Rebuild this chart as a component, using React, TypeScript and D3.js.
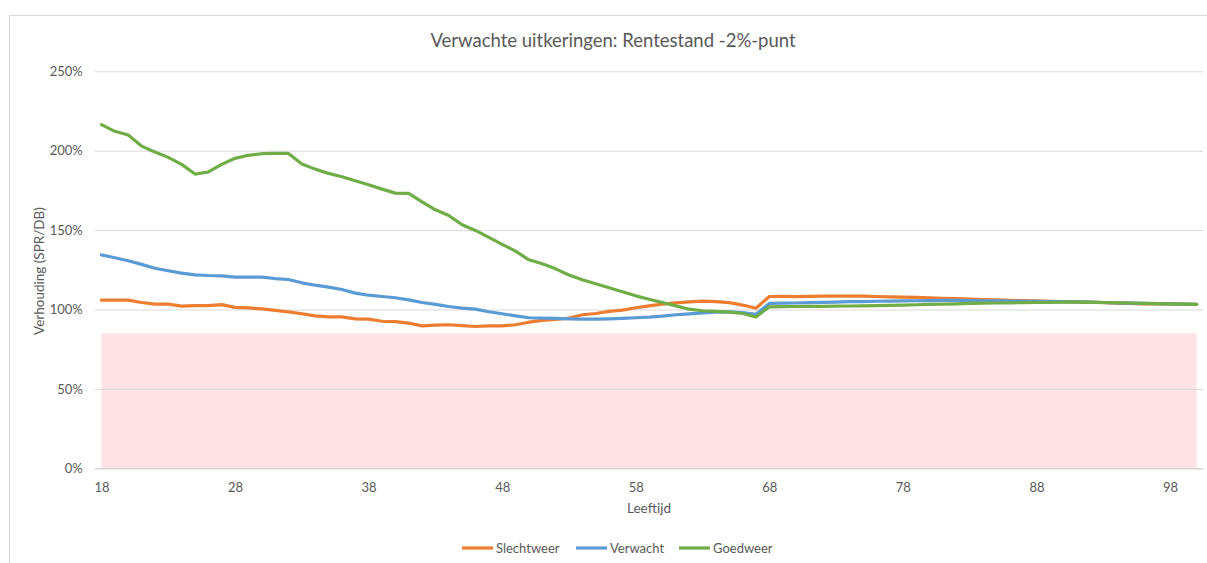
import React, { useRef, useEffect, useMemo } from 'react';
import * as d3 from 'd3';

const leeftijden: number[] = d3.range(18, 101);

const slechtweer = [
  105.9, 105.9, 105.9, 104.4, 103.4, 103.4, 102.1, 102.5, 102.5, 103.1,
  101.3, 101.0, 100.4, 99.4, 98.5, 97.3, 96.0, 95.4, 95.4, 94.1,
  93.9, 92.6, 92.4, 91.4, 89.7, 90.1, 90.4, 89.9, 89.3, 89.7,
  89.7, 90.4, 92.0, 93.1, 93.7, 94.6, 96.7, 97.5, 98.8, 99.6,
  101.1, 102.3, 103.4, 104.2, 104.8, 105.3, 105.0, 104.3, 102.8, 100.8,
  108.2, 108.3, 108.1, 108.3, 108.4, 108.4, 108.5, 108.4, 108.2, 108.0,
  107.8, 107.6, 107.4, 107.1, 106.8, 106.5, 106.3, 106.0, 105.8, 105.6,
  105.4, 105.2, 105.0, 104.8, 104.6, 104.3, 104.0, 103.8, 103.6, 103.6,
  103.5, 103.4, 103.2,
];

const verwacht = [
  134.4, 132.6, 130.7, 128.4, 126.0, 124.4, 122.9, 121.8, 121.4, 121.2,
  120.4, 120.4, 120.4, 119.5, 118.9, 116.8, 115.3, 114.1, 112.6, 110.3,
  109.0, 108.2, 107.4, 106.1, 104.4, 103.2, 101.9, 100.9, 100.2, 98.6,
  97.3, 96.0, 94.8, 94.6, 94.4, 94.1, 93.9, 93.9, 94.1, 94.4,
  94.8, 95.2, 95.8, 96.7, 97.3, 97.9, 98.3, 98.5, 98.0, 97.0,
  103.8, 104.0, 104.1, 104.3, 104.5, 104.7, 104.9, 105.0, 105.2, 105.3,
  105.4, 105.5, 105.6, 105.7, 105.7, 105.6, 105.5, 105.4, 105.3, 105.2,
  105.1, 105.0, 104.9, 104.8, 104.6, 104.4, 104.2, 104.0, 103.8, 103.7,
  103.5, 103.4, 103.3,
];

const goedweer = [
  216.4, 212.2, 209.9, 202.9, 199.2, 195.8, 191.4, 185.3, 186.6, 191.4,
  195.2, 197.1, 198.1, 198.3, 198.3, 191.6, 188.4, 185.7, 183.6, 181.1,
  178.6, 175.8, 173.3, 173.1, 167.8, 162.8, 159.2, 153.4, 149.8, 145.4,
  141.0, 136.8, 131.3, 128.8, 125.6, 121.7, 118.7, 116.2, 113.7, 111.2,
  108.6, 106.5, 104.4, 102.3, 100.2, 99.2, 98.8, 98.3, 97.5, 95.3,
  101.7, 101.8, 101.9, 102.0, 102.0, 102.1, 102.2, 102.3, 102.4, 102.6,
  102.8, 103.0, 103.2, 103.4, 103.6, 103.8, 104.0, 104.1, 104.2, 104.3,
  104.4, 104.5, 104.6, 104.6, 104.5, 104.4, 104.3, 104.1, 103.9, 103.7,
  103.5, 103.4, 103.2,
];

// pink band: 0% up to the 85% level
const ondergrens = 85;

const xTicks = [18, 28, 38, 48, 58, 68, 78, 88, 98];
const yTicks = [0, 50, 100, 150, 200, 250];

const series = [
  { name: 'Slechtweer', values: slechtweer, color: '#ED7D31' },
  { name: 'Verwacht', values: verwacht, color: '#5B9BD5' },
  { name: 'Goedweer', values: goedweer, color: '#70AD47' },
];

const W = 1207;
const H = 563;
const plot = { left: 94.8, right: 1203.4, top: 71.3, bottom: 468.3 };
const FONT = 'Lato, "Open Sans", sans-serif';
const TEXT = '#595959';

export default function App() {
  const xRef = useRef<SVGGElement>(null);
  const yRef = useRef<SVGGElement>(null);

  const x = useMemo(() =>
    d3.scalePoint<number>()
      .domain(leeftijden)
      .range([plot.left, plot.right])
      .padding(0.5),
  []);

  const y = useMemo(() =>
    d3.scaleLinear()
      .domain([0, 250])
      .range([plot.bottom, plot.top]),
  []);

  useEffect(() => {
    if (!xRef.current || !yRef.current) return;
    const gx = d3.select(xRef.current);
    gx.call(d3.axisBottom(x).tickValues(xTicks).tickSize(0).tickPadding(14));
    gx.select('.domain').remove();
    gx.selectAll('text')
      .attr('fill', TEXT)
      .style('font-family', FONT)
      .style('font-size', '13px');

    const gy = d3.select(yRef.current);
    gy.call(
      d3.axisLeft(y)
        .tickValues(yTicks)
        .tickSize(-(plot.right - plot.left))
        .tickPadding(12)
        .tickFormat(d => `${d}%`)
    );
    gy.select('.domain').remove();
    gy.selectAll('line').attr('stroke', '#d9d9d9').attr('stroke-width', 1);
    gy.selectAll('text')
      .attr('fill', TEXT)
      .style('font-family', FONT)
      .style('font-size', '13px');
  }, [x, y]);

  const line = d3.line<number>()
    .x((_, i) => x(leeftijden[i]) as number)
    .y(d => y(d));

  const x0 = x(leeftijden[0]) as number;
  const x1 = x(leeftijden[leeftijden.length - 1]) as number;

  const legendX = [462, 576, 679];

  return (
    <svg
      width={W}
      height={H}
      style={{ position: 'absolute', left: 0, top: 0, background: '#fff' }}
    >
      <rect x={9.5} y={15.5} width={1220} height={600} fill="#fff" stroke="#d9d9d9" />

      <text x={613} y={47} textAnchor="middle" fill={TEXT}
        style={{ fontFamily: FONT, fontSize: 18.5 }}>
        Verwachte uitkeringen: Rentestand -2%-punt
      </text>

      <rect x={x0} y={y(ondergrens)} width={x1 - x0} height={y(0) - y(ondergrens)} fill="#fde3e6" />

      <g ref={yRef} transform={`translate(${plot.left},0)`} />
      <line x1={plot.left} x2={plot.right} y1={y(0) + 0.5} y2={y(0) + 0.5} stroke="#d0d0d0" />
      <g ref={xRef} transform={`translate(0,${plot.bottom})`} />

      {series.map(s => (
        <path key={s.name} d={line(s.values) || ''} fill="none" stroke={s.color}
          strokeWidth={3.2} strokeLinejoin="round" strokeLinecap="round" />
      ))}

      <text x={649} y={513} textAnchor="middle" fill={TEXT}
        style={{ fontFamily: FONT, fontSize: 13.5 }}>
        Leeftijd
      </text>

      <text transform="translate(44,271) rotate(-90)" textAnchor="middle" fill={TEXT}
        style={{ fontFamily: FONT, fontSize: 13.5 }}>
        Verhouding (SPR/DB)
      </text>

      {series.map((s, i) => (
        <g key={s.name} transform={`translate(${legendX[i]},548)`}>
          <line x1={0} x2={31} y1={0} y2={0} stroke={s.color} strokeWidth={3.2} />
          <text x={34} y={4.5} fill={TEXT} style={{ fontFamily: FONT, fontSize: 13 }}>
            {s.name}
          </text>
        </g>
      ))}
    </svg>
  );
}
